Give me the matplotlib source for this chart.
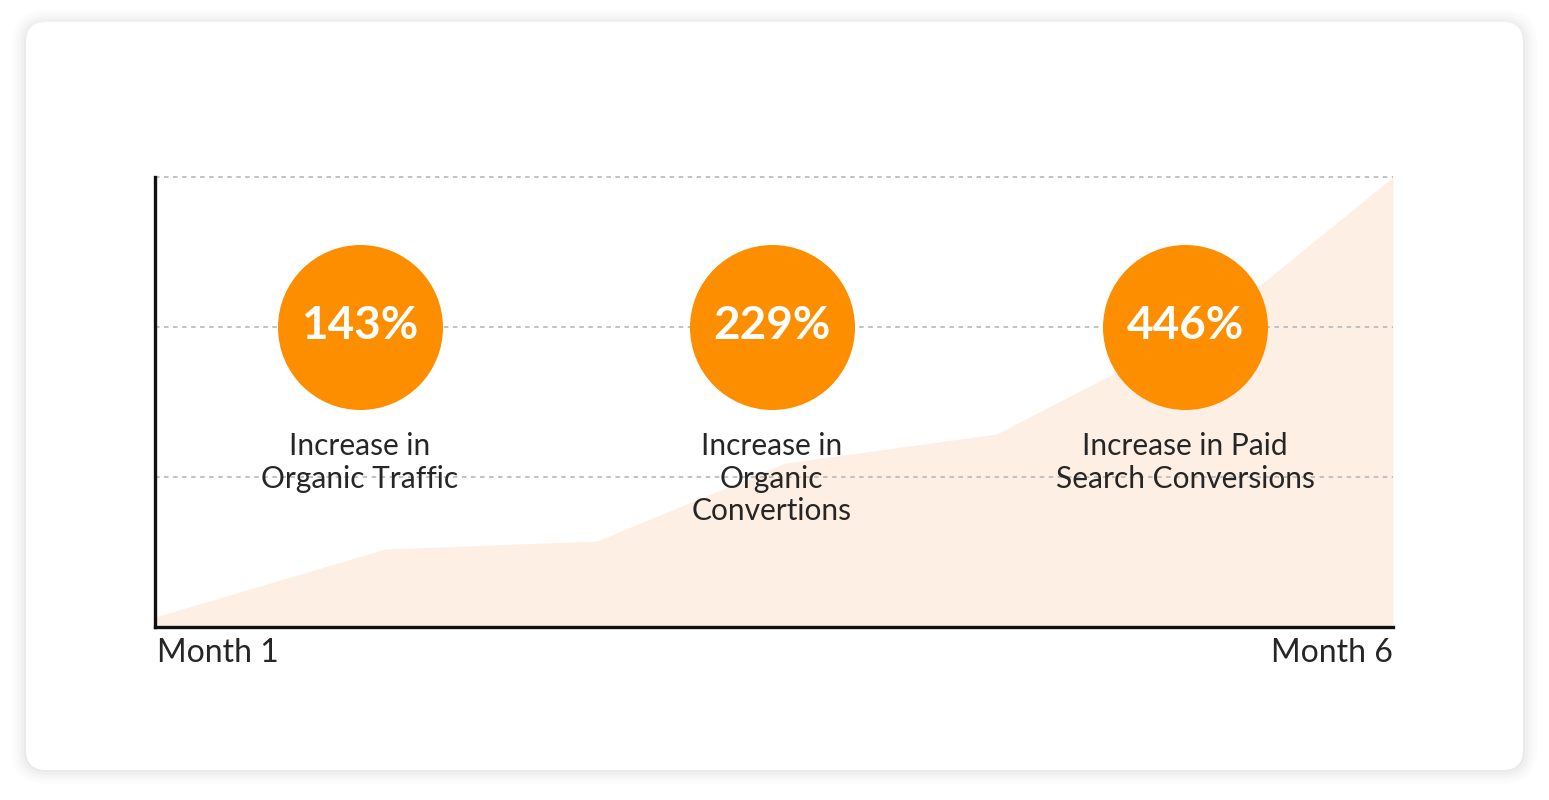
import matplotlib.pyplot as plt
from matplotlib.patches import FancyBboxPatch

# area series (month position, value)
months = [1.0, 1.93, 2.785, 3.545, 4.40, 5.29, 6.0]
values = [0.067, 0.52, 0.573, 1.093, 1.287, 2.047, 3.0]

# highlight bubbles
bubble_x = [1.828, 3.49, 5.16]
bubble_y = [2.0, 2.0, 2.0]
bubble_text = ["143%", "229%", "446%"]
bubble_labels = ["Increase in\nOrganic Traffic",
                 "Increase in\nOrganic\nConvertions",
                 "Increase in Paid\nSearch Conversions"]

x_labels = ["Month 1", "Month 6"]

W, H = 1549, 800
fig = plt.figure(figsize=(W / 100, H / 100), dpi=100)
fig.patch.set_facecolor("white")

# card with soft shadow
bg = fig.add_axes([0, 0, 1, 1])
bg.set_xlim(0, W)
bg.set_ylim(H, 0)
bg.axis("off")
for i, a in enumerate([0.012, 0.012, 0.015, 0.018, 0.022]):
    pad = 14 - i * 3
    bg.add_patch(FancyBboxPatch((26 - pad, 24 - pad), 1497 + 2 * pad, 746 + 2 * pad,
                                boxstyle="round,pad=0,rounding_size=%d" % (20 + pad),
                                fc="black", ec="none", alpha=a))
bg.add_patch(FancyBboxPatch((26, 22), 1497, 748, boxstyle="round,pad=0,rounding_size=20",
                            fc="white", ec="none"))

# main chart
ax = fig.add_axes([155 / W, (H - 627) / H, (1393 - 155) / W, (627 - 177) / H])
ax.patch.set_alpha(0)
ax.set_xlim(1, 6)
ax.set_ylim(0, 3)

ax.fill_between(months, values, 0, color="#fdefe4", lw=0, zorder=1)

for g in [1, 2, 3]:
    ax.axhline(g, color="#bdbdbd", lw=1.3, ls=(0, (2.5, 2.5)), zorder=2, clip_on=False)

for s in ["top", "right"]:
    ax.spines[s].set_visible(False)
for s in ["left", "bottom"]:
    ax.spines[s].set_linewidth(2.4)
    ax.spines[s].set_color("#111111")
    ax.spines[s].set_zorder(5)
ax.set_xticks([])
ax.set_yticks([])

ax.scatter(bubble_x, bubble_y, s=118.8 ** 2, color="#fd8e00", lw=0, zorder=3, clip_on=False)

for bx, by, t, lab in zip(bubble_x, bubble_y, bubble_text, bubble_labels):
    ax.text(bx, by + 0.01, t, ha="center", va="center", color="white", fontsize=33,
            family="Lato", fontweight="bold", zorder=4)
    ax.text(bx, 1.3, lab, ha="center", va="top", color="#262626", fontsize=21.5,
            family="Lato", linespacing=1.2, zorder=4)

ax.text(0.002, -0.024, x_labels[0], transform=ax.transAxes, ha="left", va="top",
        fontsize=23, family="Lato", color="#262626")
ax.text(1.0, -0.024, x_labels[1], transform=ax.transAxes, ha="right", va="top",
        fontsize=23, family="Lato", color="#262626")

fig.savefig("out.png", dpi=100)
